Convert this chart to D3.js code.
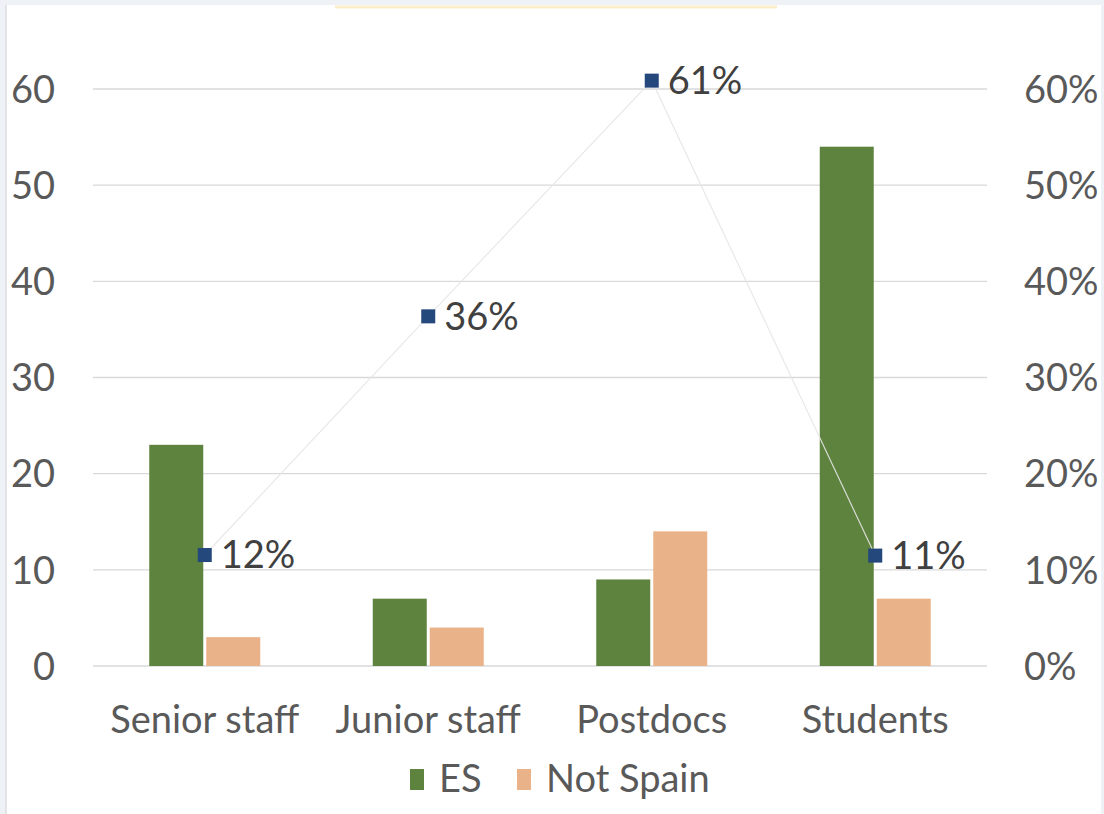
<!DOCTYPE html>
<html><head><meta charset="utf-8">
<script src="https://cdn.jsdelivr.net/npm/d3@7"></script>
<style>
html,body{margin:0;padding:0;background:#fff;}
svg{display:block;font-family:Lato, "Open Sans", sans-serif;}
</style></head>
<body>
<script>
const categories = ["Senior staff", "Junior staff", "Postdocs", "Students"];
const esValues = [23, 7, 9, 54];
const notSpainValues = [3, 4, 14, 7];
const shareValues = [0.1154, 0.3636, 0.6087, 0.1148];
const shareLabels = ["12%", "36%", "61%", "11%"];
const leftTicks = [0, 10, 20, 30, 40, 50, 60];
const rightTicks = [0, 0.1, 0.2, 0.3, 0.4, 0.5, 0.6];
const seriesNames = ["ES", "Not Spain"];
const seriesColors = ["#5e833e", "#eab289"];

const W = 1104, H = 814;
const FS = 38;
const svg = d3.select("body").append("svg").attr("width", W).attr("height", H);

// frame decoration
svg.append("rect").attr("x",0).attr("y",0).attr("width",W).attr("height",H).attr("fill","#eef2f7");
svg.append("rect").attr("x",6).attr("y",5).attr("width",W-9).attr("height",H-5).attr("fill","#fff");
svg.append("line").attr("x1",6).attr("x2",6).attr("y1",5).attr("y2",H).attr("stroke","#dcdcdc").attr("stroke-width",1.5);
svg.append("line").attr("x1",335).attr("x2",777).attr("y1",7).attr("y2",7).attr("stroke","#fbeecb").attr("stroke-width",3);

const plotL = 93, plotR = 987;
const x = d3.scaleBand().domain(categories).range([plotL, plotR]).paddingInner(0).paddingOuter(0);
const yL = d3.scaleLinear().domain([0, 60]).range([666, 89]);
const yR = d3.scaleLinear().domain([0, 0.6]).range([666, 89]);

// gridlines
svg.append("g").selectAll("line").data(leftTicks).join("line")
  .attr("x1", plotL).attr("x2", plotR)
  .attr("y1", d => yL(d)).attr("y2", d => yL(d))
  .attr("stroke", "#d9d9d9").attr("stroke-width", 1.3);

// left axis
const axL = d3.axisLeft(yL).tickValues(leftTicks).tickSize(0).tickPadding(0);
const gL = svg.append("g").attr("transform", "translate(55,0)").call(axL);
gL.select(".domain").remove();
gL.selectAll("text").attr("font-size", FS).attr("fill", "#595959").attr("font-family","Lato").attr("dy","0.35em");

// right axis
const axR = d3.axisRight(yR).tickValues(rightTicks).tickSize(0).tickPadding(0).tickFormat(d3.format(".0%"));
const gR = svg.append("g").attr("transform", "translate(1024,0)").call(axR);
gR.select(".domain").remove();
gR.selectAll("text").attr("font-size", FS).attr("fill", "#595959").attr("font-family","Lato").attr("dy","0.35em");

// bars
const barW = 54, gap = 3;
const barData = [];
categories.forEach((c, i) => {
  barData.push({c, s: 0, v: esValues[i]});
  barData.push({c, s: 1, v: notSpainValues[i]});
});
svg.append("g").selectAll("rect").data(barData).join("rect")
  .attr("x", d => x(d.c) + x.bandwidth()/2 + (d.s === 0 ? -(barW + gap/2) : gap/2))
  .attr("y", d => yL(d.v))
  .attr("width", barW)
  .attr("height", d => yL(0) - yL(d.v))
  .attr("fill", d => seriesColors[d.s]);

// line
const cx = c => x(c) + x.bandwidth()/2;
const line = d3.line().x((d,i) => cx(categories[i])).y(d => yR(d));
svg.append("path").datum(shareValues).attr("d", line)
  .attr("fill", "none").attr("stroke", "#e6e6e6").attr("stroke-width", 1.2).attr("opacity", 0.9);

const ms = 14;
svg.append("g").selectAll("rect").data(shareValues).join("rect")
  .attr("x", (d,i) => cx(categories[i]) - ms/2)
  .attr("y", d => yR(d) - ms/2)
  .attr("width", ms).attr("height", ms)
  .attr("fill", "#24477c");

svg.append("g").selectAll("text").data(shareValues).join("text")
  .attr("x", (d,i) => cx(categories[i]) + 16)
  .attr("y", d => yR(d))
  .attr("dy", "0.35em")
  .attr("font-size", FS).attr("fill", "#404040")
  .text((d,i) => shareLabels[i]);

// category labels
svg.append("g").selectAll("text").data(categories).join("text")
  .attr("x", d => cx(d)).attr("y", 720).attr("dy","0.35em")
  .attr("text-anchor", "middle").attr("font-size", FS).attr("fill", "#595959")
  .text(d => d);

// legend
const leg = svg.append("g");
const legItems = [{n: seriesNames[0], x: 410}, {n: seriesNames[1], x: 517}];
legItems.forEach((it, i) => {
  leg.append("rect").attr("x", it.x).attr("y", 769).attr("width", 14).attr("height", 21).attr("fill", seriesColors[i]);
  leg.append("text").attr("x", it.x + 29).attr("y", 779).attr("dy","0.35em")
    .attr("font-size", FS).attr("fill", "#595959").text(it.n);
});
</script>
</body></html>
